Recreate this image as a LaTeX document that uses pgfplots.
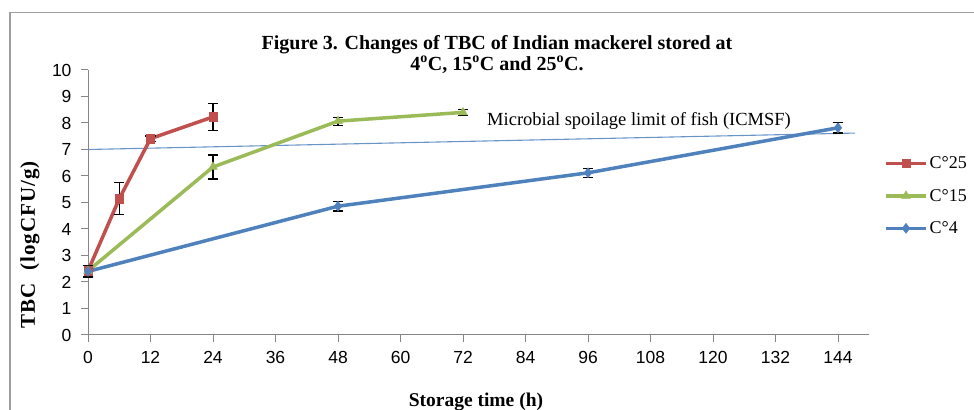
\documentclass[border=0pt]{standalone}
\usepackage{pgfplots}
\pgfplotsset{compat=1.18}
\usepackage{fontspec}
\setmainfont{Liberation Serif}
\newfontfamily\arialf{Liberation Sans}
\newfontfamily\ylabfont[LetterSpace=5]{Liberation Serif}
\definecolor{cred}{HTML}{C0504D}
\definecolor{cgreen}{HTML}{9BBB59}
\definecolor{cblue}{HTML}{4F81BD}
\definecolor{axgray}{HTML}{868686}
\begin{document}
\begin{tikzpicture}
\clip (0,0) rectangle (974bp,410bp);
\draw[axgray!80, line width=1.3bp] (10bp,-5bp) |- (985bp,397.5bp);
\begin{axis}[
  at={(88bp,75bp)}, anchor=south west, scale only axis,
  width=781.25bp, height=265bp,
  xmin=0, xmax=150, ymin=0, ymax=10,
  axis x line=bottom, axis y line=left,
  axis line style={axgray, line width=1bp, -},
  xtick={0,12,...,144}, ytick={0,1,...,10},
  tick style={axgray, line width=1bp},
  tick align=outside, major tick length=7bp,
  /pgf/number format/assume math mode=true,
  ticklabel style={font=\arialf\fontsize{17.5bp}{20bp}\selectfont, text=black},
  xticklabel style={yshift=-6bp},
  yticklabel style={xshift=-6bp},
  title={Figure 3. Changes of TBC of Indian mackerel stored at\\4\textsuperscript{o}C, 15\textsuperscript{o}C and 25\textsuperscript{o}C.},
  title style={at={(axis description cs:0.5235,1.036)}, anchor=center, align=center,
    font=\bfseries\fontsize{20bp}{21bp}\selectfont},
  xlabel={Storage time (h)},
  xlabel style={at={(axis description cs:0.4966,-0.252)}, anchor=center,
    font=\bfseries\fontsize{19.5bp}{21bp}\selectfont},
  ylabel={TBC\ \ (logCFU/g)},
  ylabel style={at={(axis description cs:-0.0742,0.34)}, anchor=center, rotate=0,
    font=\ylabfont\bfseries\fontsize{21bp}{23bp}\selectfont},
  legend style={draw=none, fill=none, at={(axis description cs:1.0189,0.525)}, anchor=west,
    font=\fontsize{18bp}{20bp}\selectfont, row sep=15bp, inner sep=0pt,
    /tikz/every even column/.append style={column sep=0bp}},
  legend cell align=left,
  legend image code/.code={\draw[mark repeat=2, mark phase=2] plot coordinates {(0bp,0bp) (20bp,0bp) (40bp,0bp)};},
  clip=false,
]
% spoilage limit line
\addplot[cblue!85, line width=1.1bp, forget plot] coordinates {(0,7.0) (147.3,7.62)};
\node[font=\fontsize{18.5bp}{20bp}\selectfont, text=black] at (axis cs:105.8,8.09) {Microbial spoilage limit of fish (ICMSF)};

\addplot[cred, line width=3.5bp, mark=square*, mark size=4.2bp, mark options={solid, line width=0.5bp},
  error bars/.cd, y dir=both, y explicit,
  error bar style={black, line width=1.2bp},
  error mark options={rotate=90, mark size=5bp, black, line width=1.2bp}]
  coordinates {(0,2.42) +- (0,0.2) (6,5.14) +- (0,0.6) (12,7.41) +- (0,0.1) (24,8.23) +- (0,0.5)};
\addlegendentry{C°25}

\addplot[cgreen, line width=3.5bp, mark=triangle*, mark size=5bp, mark options={solid, line width=0.5bp},
  error bars/.cd, y dir=both, y explicit,
  error bar style={black, line width=1.2bp},
  error mark options={rotate=90, mark size=5bp, black, line width=1.2bp}]
  coordinates {(0,2.42) +- (0,0.2) (24,6.34) +- (0,0.45) (48,8.07) +- (0,0.15) (72,8.40) +- (0,0.12)};
\addlegendentry{C°15}

\addplot[cblue, line width=3.5bp, mark=diamond*, mark size=5bp, mark options={solid, line width=0.5bp},
  error bars/.cd, y dir=both, y explicit,
  error bar style={black, line width=1.2bp},
  error mark options={rotate=90, mark size=5bp, black, line width=1.2bp}]
  coordinates {(0,2.40) +- (0,0.22) (48,4.86) +- (0,0.18) (96,6.12) +- (0,0.17) (144,7.82) +- (0,0.2)};
\addlegendentry{C°4}
\end{axis}
\end{tikzpicture}
\end{document}
